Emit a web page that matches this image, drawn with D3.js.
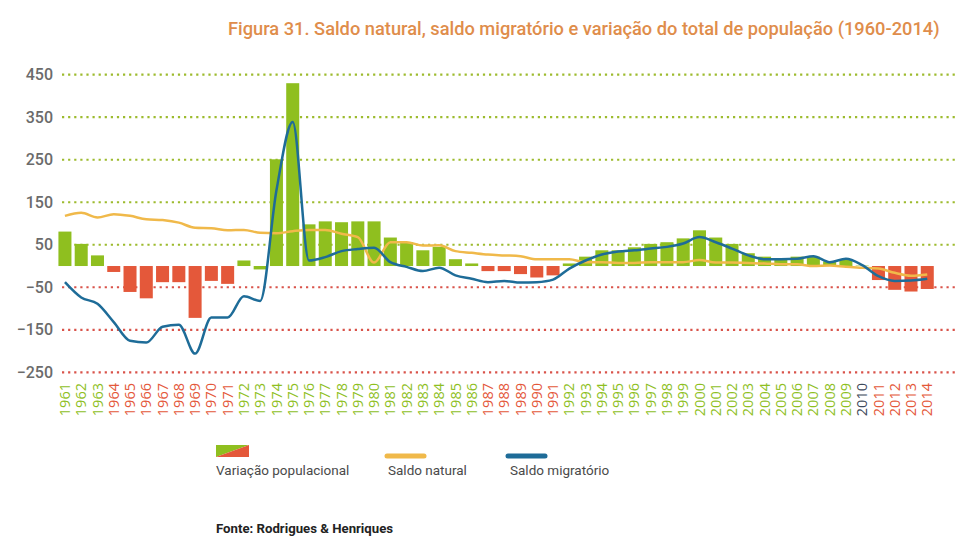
<!DOCTYPE html>
<html><head><meta charset="utf-8">
<script src="https://cdn.jsdelivr.net/npm/d3@7"></script>
<style>body{margin:0;background:#fff}svg{display:block}</style>
</head><body>
<script>
const years = d3.range(1961, 2015).map(String);
const variacao = [81,52,25,-14,-61,-76,-38,-38,-122,-35,-42,13,-8,251,430,98,105,103,105,105,
  67,56,37,45,16,6,-12,-12,-19,-27,-22,6,22,37,37,44,52,56,65,84,67,52,30,22,15,22,22,11,16,1,-33,-56,-60,-54];
const saldoNatural = [118,125,114,122,118,110,108,102,90,89,84,85,78,77,82,85,85,76,68,8,
  56,56,48,49,35,31,27,25,23,16,16,16,9,9,7,7,9,9,9,14,8,8,7,6,4,4,0,1,-2,-4,-6,-16,-23,-20];
const saldoMigratorio = [-38,-74,-89,-132,-176,-180,-143,-138,-206,-121,-121,-71,-82,178,339,13,21,35,40,43,
  9,-2,-12,-4,-22,-30,-38,-35,-39,-38,-32,-6,13,27,34,37,41,45,53,68,56,41,25,16,16,17,23,9,17,2,-24,-35,-34,-30];
// years shown in red (negative variation), neutral year
const redYears = ["1964","1965","1966","1967","1968","1969","1970","1971","1987","1988","1989","1990","1991","2011","2012","2013","2014"];
const neutralYears = ["2010"];
const yTicks = [450,350,250,150,50,-50,-150,-250];
const title = "Figura 31. Saldo natural, saldo migratório e variação do total de população (1960-2014)";
const legendItems = ["Variação populacional","Saldo natural","Saldo migratório"];
const source = "Fonte: Rodrigues & Henriques";

const GREEN = "#8fbf1f", RED = "#e4583a", YEL = "#f0b94a", BLUE = "#1e6c98";
const W = 972, H = 547;
const svg = d3.select("body").append("svg").attr("width", W).attr("height", H)
  .style("font-family", "'Open Sans', sans-serif");

const x = d3.scaleBand().domain(years).range([56.8, 935.4]).paddingInner(0.2).paddingOuter(0.1);
const y = d3.scaleLinear().domain([-250, 450]).range([372.3, 74.7]);

// title (horizontally condensed to match the narrow original face)
const tg = svg.append("g");
const tt = tg.append("text").attr("x", 0).attr("y", 0)
  .attr("fill", "#df8d4b").attr("font-size", 19).attr("font-weight", 500)
  .attr("font-family", "Roboto, sans-serif").text(title);
const tw = tt.node().getComputedTextLength();
const sx = 712 / tw;
tg.attr("transform", `translate(228,35) scale(${sx},1)`);

// grid
const grid = svg.append("g");
grid.selectAll("line").data(yTicks).join("line")
  .attr("x1", 62).attr("x2", 956).attr("y1", d => y(d)).attr("y2", d => y(d))
  .attr("stroke", d => d > 0 ? "#9dbb2e" : "#d9534a").attr("stroke-width", 2.2)
  .attr("stroke-dasharray", "2.2,3.9");

// y axis labels
const yAxis = d3.axisLeft(y).tickValues(yTicks).tickSize(0).tickPadding(0);
const ya = svg.append("g").attr("transform", "translate(53,0)").call(yAxis);
ya.select(".domain").remove();
ya.selectAll("text").attr("font-size", 16).attr("font-weight", 500).attr("fill", "#6b6b6b")
  .attr("font-family", "Roboto, sans-serif").attr("dy", "0.3em");

// bars
const barColor = yr => redYears.includes(yr) ? RED : GREEN;
svg.append("g").selectAll("rect").data(years).join("rect")
  .attr("x", d => x(d)).attr("width", x.bandwidth())
  .attr("y", (d, i) => y(Math.max(0, variacao[i])))
  .attr("height", (d, i) => Math.abs(y(variacao[i]) - y(0)))
  .attr("fill", barColor);

// lines
const line = arr => d3.line().x((d, i) => x(years[i]) + x.bandwidth() / 2).y(d => y(d)).curve(d3.curveMonotoneX)(arr);
svg.append("path").attr("d", line(saldoNatural)).attr("fill", "none").attr("stroke", YEL).attr("stroke-width", 2.5);
svg.append("path").attr("d", line(saldoMigratorio)).attr("fill", "none").attr("stroke", BLUE).attr("stroke-width", 2.5);

// x axis labels
const xAxis = d3.axisBottom(x).tickSize(0).tickPadding(0);
const xa = svg.append("g").attr("transform", "translate(0,383)").call(xAxis);
xa.select(".domain").remove();
xa.selectAll("text").attr("transform", "rotate(-90)").attr("text-anchor", "end")
  .attr("x", 0).attr("y", 0).attr("dy", "0.35em")
  .attr("font-size", 14.5).attr("font-family", "'Open Sans', sans-serif")
  .attr("fill", d => neutralYears.includes(d) ? "#3e4a5c" : barColor(d));

// legend
const lg = svg.append("g");
lg.append("polygon").attr("points", "216,445 249,445 216,457").attr("fill", GREEN);
lg.append("polygon").attr("points", "249,445 249,457 216,457").attr("fill", RED);
lg.append("line").attr("x1", 387).attr("x2", 424).attr("y1", 456).attr("y2", 456)
  .attr("stroke", YEL).attr("stroke-width", 5).attr("stroke-linecap", "round");
lg.append("line").attr("x1", 508).attr("x2", 545).attr("y1", 456).attr("y2", 456)
  .attr("stroke", BLUE).attr("stroke-width", 5).attr("stroke-linecap", "round");
lg.selectAll("text").data(legendItems).join("text")
  .attr("x", (d, i) => [216, 388, 510][i]).attr("y", 475)
  .attr("font-size", 13.5).attr("font-family", "Roboto, sans-serif")
  .attr("fill", "#4a4a4a").text(d => d);

svg.append("text").attr("x", 216).attr("y", 533).attr("font-size", 13.2).attr("font-weight", 700)
  .attr("font-family", "Roboto, sans-serif").attr("fill", "#222").text(source);
</script>
</body></html>
